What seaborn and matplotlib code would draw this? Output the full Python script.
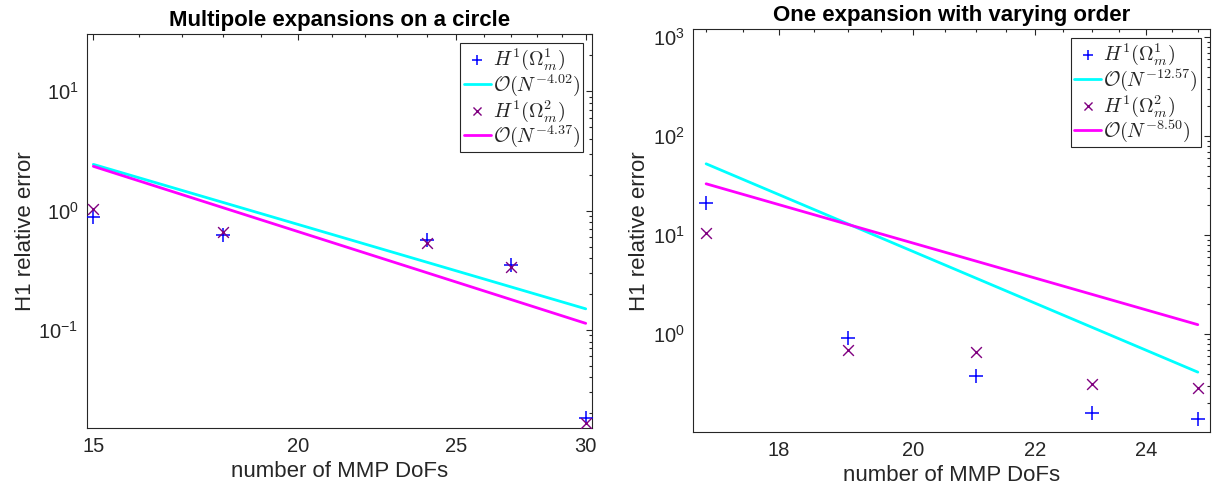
import numpy as np
import pandas as pd
import matplotlib
matplotlib.use("Agg")
import matplotlib.pyplot as plt
import seaborn as sns
from matplotlib.ticker import (FixedLocator, FixedFormatter, NullFormatter,
                               LogLocator, LogFormatterSciNotation)
from matplotlib.font_manager import FontProperties

# ---- data: multipole expansions on a circle ----
circle_dofs = [15, 18, 24, 27, 30]
circle_err_1 = [0.88, 0.62, 0.57, 0.347, 0.0184]
circle_err_2 = [1.03, 0.66, 0.54, 0.336, 0.0167]
circle_rate_1 = -4.02
circle_rate_2 = -4.37
circle_amp_1 = 2.44   # fitted value at the first DoF count
circle_amp_2 = 2.35

# ---- data: one expansion with varying order ----
order_dofs = [17, 19, 21, 23, 25]
order_err_1 = [21.4, 0.925, 0.382, 0.159, 0.139]
order_err_2 = [10.5, 0.695, 0.653, 0.315, 0.289]
order_rate_1 = -12.57
order_rate_2 = -8.50
order_amp_1 = 52.7
order_amp_2 = 33.1

sns.set_theme(style="white")
plt.rcParams["font.family"] = ["Liberation Sans", "DejaVu Sans"]
plt.rcParams["mathtext.fontset"] = "custom"
plt.rcParams["mathtext.rm"] = "Liberation Sans"
plt.rcParams["mathtext.it"] = "Liberation Sans:italic"

DARK = "#262626"
BLUE = "#0000ff"
PURPLE = "#800080"
CYAN = "#00ffff"
MAGENTA = "#ff00ff"

fig = plt.figure(figsize=(12.14, 4.95), dpi=100)
ax1 = fig.add_axes([0.0714, 0.1347, 0.4165, 0.796])
ax2 = fig.add_axes([0.5711, 0.1267, 0.4256, 0.8141])


def fit_line(dofs, amp, rate):
    n = np.array([dofs[0], dofs[-1]], dtype=float)
    return pd.DataFrame({"N": n, "err": amp * (n / n[0]) ** rate})


def draw(ax, dofs, e1, e2, a1, r1, a2, r2, title, xlim, ylim, xmajor, xminor):
    d1 = pd.DataFrame({"N": dofs, "err": e1})
    d2 = pd.DataFrame({"N": dofs, "err": e2})
    ax.set_xscale("log")
    ax.set_yscale("log")
    sns.scatterplot(data=d1, x="N", y="err", marker="+", s=110, color=BLUE,
                    linewidth=1.1, ax=ax, label=r"$H^1(\Omega_m^1)$", zorder=3)
    sns.lineplot(data=fit_line(dofs, a1, r1), x="N", y="err", color=CYAN,
                 linewidth=2.0, ax=ax, label=r"$\mathcal{O}(N^{%.2f})$" % r1)
    sns.scatterplot(data=d2, x="N", y="err", marker="x", s=60, color=PURPLE,
                    linewidth=1.0, ax=ax, label=r"$H^1(\Omega_m^2)$", zorder=3)
    sns.lineplot(data=fit_line(dofs, a2, r2), x="N", y="err", color=MAGENTA,
                 linewidth=2.0, ax=ax, label=r"$\mathcal{O}(N^{%.2f})$" % r2)

    ax.set_xlim(*xlim)
    ax.set_ylim(*ylim)
    ax.xaxis.set_major_locator(FixedLocator(xmajor))
    ax.xaxis.set_minor_locator(FixedLocator(xminor))
    ax.xaxis.set_major_formatter(FixedFormatter([str(v) for v in xmajor]))
    ax.xaxis.set_minor_formatter(NullFormatter())
    ax.yaxis.set_major_locator(LogLocator(base=10, numticks=20))
    ax.yaxis.set_minor_locator(LogLocator(base=10, subs=np.arange(2, 10), numticks=50))
    ax.yaxis.set_major_formatter(LogFormatterSciNotation())
    ax.yaxis.set_minor_formatter(NullFormatter())

    ax.tick_params(which="both", direction="in", top=True, right=True,
                   colors=DARK, labelcolor=DARK, labelsize=14.5, width=0.8)
    ax.tick_params(which="major", length=4.5, pad=6)
    ax.tick_params(which="minor", length=2.5)
    for sp in ax.spines.values():
        sp.set_color(DARK)
        sp.set_linewidth(0.8)

    ax.set_title(title, fontsize=16, fontweight="bold", color="black", pad=6)
    ax.set_xlabel("number of MMP DoFs", fontsize=16, color=DARK, labelpad=4)
    ax.set_ylabel("H1 relative error", fontsize=16, color=DARK, labelpad=2)

    leg_font = FontProperties(size=14.5, math_fontfamily="cm")
    leg = ax.legend(loc="upper right", prop=leg_font, frameon=True, fancybox=False,
                    framealpha=1, edgecolor=DARK, borderaxespad=0.45,
                    handlelength=1.35, handletextpad=0.1, labelspacing=0.0,
                    borderpad=0.15, markerscale=0.75)
    leg.get_frame().set_linewidth(0.8)


draw(ax1, circle_dofs, circle_err_1, circle_err_2,
     circle_amp_1, circle_rate_1, circle_amp_2, circle_rate_2,
     "Multipole expansions on a circle", (14.86, 30.28), (0.015, 30),
     [15, 20, 25, 30], [16, 17, 18, 19, 21, 22, 23, 24, 26, 27, 28, 29])

draw(ax2, order_dofs, order_err_1, order_err_2,
     order_amp_1, order_rate_1, order_amp_2, order_rate_2,
     "One expansion with varying order", (16.83, 25.24), (0.102, 1205),
     [18, 20, 22, 24],
     [17, 17.5, 18.5, 19, 19.5, 20.5, 21, 21.5, 22.5, 23, 23.5, 24.5, 25])

fig.savefig("out.png", dpi=100, facecolor="white")
